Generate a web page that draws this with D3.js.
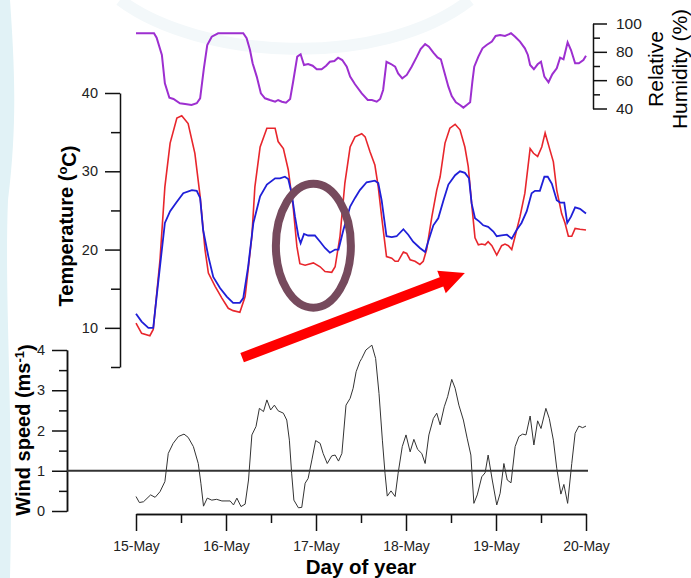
<!DOCTYPE html>
<html>
<head>
<meta charset="utf-8">
<script src="https://cdn.jsdelivr.net/npm/d3@7"></script>
<style>
  body { margin: 0; background: #fff; }
  svg { font-family: "Liberation Sans", Arial, sans-serif; display: block; }
</style>
</head>
<body>
<svg width="691" height="578"></svg>
<script>
// Hours since 15-May 00:00 and value
const dayLabels = ["15-May", "16-May", "17-May", "18-May", "19-May", "20-May"];
const dayTicks = [0, 24, 48, 72, 96, 120];
const halfDayTicks = [12, 36, 60, 84, 108];

const tempRed = [[0,10.6],[1.5,9.3],[3.7,9.0],[4.6,9.8],[6.4,18.7],[7.7,28],[9.1,33.6],[10.9,36.8],[12.2,37.1],
  [13.9,36.1],[15.7,32.3],[17.1,26.8],[18.4,20],[19.3,17],[21.1,15.3],[22.9,13.8],[24.6,12.5],[25.9,12.2],
  [27.7,12.0],[29.1,14],[30.9,21.7],[31.7,28],[33.1,33.1],[34.9,35.5],[37.1,35.5],[37.9,33.8],[39.3,32.9],
  [40.6,30.2],[41.9,25.5],[42.9,20.4],[43.7,18.2],[45.1,18.0],[47.3,18.3],[49.1,17.8],[50.4,17.2],[52.2,17.1],
  [53.1,17.8],[54.4,21.7],[55.7,28.5],[57.1,33.1],[58.4,34.4],[60.2,34.8],[61.1,34.4],[62.4,32.5],[63.7,30.8],
  [64.6,28],[65.5,24.2],[66.8,19.1],[68.2,18.9],[69.1,18.5],[69.9,18.5],[71.3,19.7],[72.2,19.5],[73.1,18.7],
  [74.4,18.5],[75.7,18.1],[76.6,18.5],[77.5,20],[78.9,24.2],[80.2,27.6],[81.1,29.3],[82.4,33.6],[83.7,35.5],
  [85.1,36.0],[86.4,35.3],[87.7,33.1],[88.6,30.6],[89.5,25.9],[90.4,21.5],[91.3,20.6],[92.2,20.7],[93.1,20.6],
  [93.9,21.0],[94.9,20.5],[96.2,19.3],[97.5,20.5],[98.4,20.7],[99.3,20.5],[100.2,20],[101.1,21.7],[102.4,24.2],
  [103.7,27.2],[105.1,32.9],[106.0,32.3],[107.1,31.9],[108.2,33.1],[109.1,34.9],[110.4,32.7],[111.3,31.2],
  [112.2,27.6],[113.5,24.6],[114.4,23.4],[115.3,21.7],[116.2,21.7],[117.1,22.7],[118.4,22.6],[120,22.5]];

const tempBlue = [[0,11.8],[1.5,10.8],[3.3,10.0],[4.6,10.0],[5.5,14],[6.9,20],[7.7,23.4],[9.1,24.9],[10.9,26.1],
  [12.6,27.2],[14.9,27.6],[16.2,27.5],[17.1,26.6],[17.9,22.5],[19.3,19.1],[20.6,16.5],[22.4,15.1],[24.2,14.0],
  [25.9,13.2],[27.7,13.2],[28.6,13.8],[29.9,17.8],[31.3,23.4],[33.1,26.8],[34.9,28.3],[37.1,29.1],[38.4,29.1],
  [39.7,29.3],[40.6,29.0],[41.5,27.2],[42.4,24.2],[43.3,21.7],[43.9,20.8],[44.8,22.0],[45.9,21.8],[47.7,21.8],
  [49.1,21.0],[50.4,20.2],[51.7,19.6],[53.1,20],[54.0,20],[55.3,22.5],[57.1,25.5],[58.4,26.6],[59.7,27.6],
  [61.5,28.6],[63.7,28.8],[64.6,28.5],[65.5,26.3],[66.8,21.7],[68.2,21.6],[69.5,21.7],[71.3,22.6],[72.6,21.9],
  [73.9,21.0],[75.7,20.2],[77.1,19.7],[77.9,21],[79.3,23.1],[80.6,24.0],[82.0,26.3],[83.3,28.3],[85.1,29.5],
  [86.4,30.0],[87.7,29.8],[88.8,29.1],[89.5,25.9],[90.4,24.0],[91.5,23.6],[92.6,23.1],[93.9,22.9],[95.3,22.3],
  [96.2,21.7],[97.5,21.8],[98.9,21.9],[100.2,21.4],[101.5,22.5],[102.8,23.4],[104.2,24.9],[105.5,27.2],
  [106.4,27.5],[107.7,27.5],[108.9,29.3],[109.8,29.3],[110.9,28.4],[112.2,26.3],[113.1,26],[114.2,26],
  [115.0,23.4],[116.0,24.2],[117.1,25.4],[118.4,25.2],[120,24.6]];

const humidity = [[0,93.1],[4.8,93.1],[5.5,90.0],[6.9,77.8],[7.7,57.8],[8.9,47.6],[10.0,46.7],[11.7,43.7],
  [13.1,43.2],[14.8,42.5],[16.2,43.7],[17.1,47.2],[18.1,68.4],[19.0,84.8],[20.2,90.7],[21.9,93.1],[28.6,93.1],
  [29.5,89.6],[30.4,81.3],[31.1,71.9],[32.2,62.5],[33.3,50.7],[34.4,47.2],[35.7,46.0],[37.1,44.8],[37.9,46.0],
  [38.9,44.8],[40.0,44.1],[41.1,46.7],[41.9,58.9],[43.0,76.6],[43.9,78.3],[44.8,70.7],[45.9,71.4],[47.1,70.2],
  [48.2,67.7],[49.5,67.7],[50.7,70.2],[51.7,73.0],[52.9,73.5],[53.9,75.9],[55.0,74.2],[56.2,69.5],[57.1,62.5],
  [58.4,57.1],[60.2,50.7],[61.8,46.0],[62.9,46.0],[64.2,44.8],[65.1,46.7],[65.9,53.1],[66.8,73.0],[68.0,71.4],
  [69.1,69.5],[69.9,64.8],[71.0,61.3],[72.2,63.7],[73.5,69.5],[74.9,76.6],[75.9,82.0],[77.1,85.5],[78.1,83.6],
  [79.3,79.4],[80.4,76.1],[81.3,74.7],[82.2,66.0],[83.3,55.4],[84.2,48.8],[85.3,44.4],[86.4,42.5],[87.3,40.6],
  [88.2,42.5],[89.1,44.4],[89.7,58.9],[90.2,69.5],[91.3,76.6],[92.4,82.5],[93.5,84.8],[94.9,87.2],[95.9,91.2],
  [97.1,91.9],[98.4,91.2],[100.0,93.1],[101.1,90.7],[102.4,87.2],[103.7,82.5],[104.5,77.8],[105.1,70.7],
  [106.1,67.7],[107.1,71.2],[108.0,73.0],[108.9,62.5],[110.0,58.5],[111.0,64.1],[112.2,68.4],[113.1,75.9],
  [114.0,74.7],[115.1,86.7],[116.0,81.3],[117.1,71.9],[118.1,71.9],[119.3,74.2],[120,77.3]];

const windSpeed = [[0,0.36],[0.9,0.21],[2.0,0.23],[3.9,0.40],[5.1,0.34],[6.4,0.48],[7.7,0.73],[8.6,1.43],
  [9.9,1.68],[11.3,1.85],[12.8,1.91],[13.9,1.83],[15.3,1.60],[16.6,1.18],[17.3,0.69],[18.0,0.12],[19.0,0.32],
  [20.2,0.27],[21.5,0.29],[22.9,0.25],[25.1,0.25],[26.0,0.15],[26.9,0.32],[28.0,0.11],[29.1,0.17],[30.0,0.77],
  [30.9,1.89],[32.0,2.10],[32.9,2.55],[34.0,2.47],[34.9,2.76],[35.9,2.51],[36.9,2.63],[37.9,2.49],[39.3,2.43],
  [40.2,2.26],[40.9,1.76],[41.5,0.94],[42.1,0.27],[43.3,0.08],[44.2,0.09],[45.1,0.69],[45.9,0.81],[46.9,1.27],
  [47.9,1.75],[49.1,1.68],[49.9,1.43],[51.0,1.18],[52.2,1.37],[53.1,1.39],[54.0,1.24],[54.9,1.43],[56.0,2.63],
  [57.1,2.80],[57.9,3.05],[58.7,3.46],[59.7,3.71],[60.2,3.79],[61.3,4.0],[62.9,4.12],[63.9,3.79],[64.8,2.92],
  [65.7,1.76],[66.4,0.94],[67.0,0.37],[68.0,0.50],[69.1,0.36],[69.9,0.94],[71.0,1.60],[72.0,1.89],[73.1,1.47],
  [74.1,1.78],[75.1,1.53],[76.2,1.43],[77.1,1.18],[78.1,1.89],[79.3,2.30],[80.2,2.43],[81.1,2.14],[82.2,2.59],
  [83.1,2.84],[84.2,3.27],[85.1,3.05],[86.1,2.63],[87.3,2.26],[88.3,1.81],[89.3,1.39],[89.7,0.77],[90.1,0.19],
  [91.0,0.40],[92.2,0.85],[93.1,0.95],[93.9,1.39],[95.0,0.77],[96.2,0.15],[97.1,0.44],[98.1,1.18],[99.0,0.77],
  [100.0,0.70],[101.1,1.60],[102.1,1.85],[103.1,1.91],[104.0,1.89],[105.1,2.36],[106.1,1.64],[107.1,2.24],
  [108.0,2.05],[109.3,2.55],[110.2,2.30],[111.3,1.76],[112.2,1.06],[113.3,0.42],[114.1,0.66],[115.1,0.19],
  [116.2,1.18],[117.1,1.93],[118.1,2.11],[119.1,2.07],[120,2.11]];

const windThreshold = 1;
// annotation anchors in data units (hours, degC)
const circleAt = [47.3, 20.5];
const arrowFrom = [28.3, 6.2], arrowTo = [87.7, 17.0];

const svg = d3.select("svg");

// faint watermark in the background
const bg = svg.append("g").attr("fill", "none");
bg.append("path").attr("d", "M0,0 L10,0 C14,60 18,120 8,200 C4,300 14,420 10,578 L0,578 Z")
  .attr("fill", "#e1f2f6").attr("stroke", "none");
bg.append("path").attr("d", "M120,0 C200,60 380,70 470,0")
  .attr("stroke", "#f3f8fa").attr("stroke-width", 12);

const x = d3.scaleLinear().domain([0, 120]).range([136, 586]);
const yT = d3.scaleLinear().domain([5, 40]).range([367, 93]);
const yW = d3.scaleLinear().domain([0, 4]).range([511, 350]);
const yH = d3.scaleLinear().domain([40, 100]).range([108.5, 23.5]);
const fmt = d3.format("d");

function styleAxis(g, size) {
  g.selectAll("path, line").attr("stroke", "#111").attr("stroke-width", 1.5);
  g.selectAll("text").attr("fill", "#222").style("font-size", size + "px")
    .style("font-family", "'Liberation Sans', Arial, sans-serif");
}

// x axis
svg.append("g").attr("transform", "translate(0,514)")
  .call(d3.axisBottom(x).tickValues(halfDayTicks).tickSize(9).tickSizeOuter(0).tickFormat(""))
  .call(g => styleAxis(g, 14));
svg.append("g").attr("transform", "translate(0,514)")
  .call(d3.axisBottom(x).tickValues(dayTicks).tickSize(17).tickSizeOuter(0).tickPadding(10)
    .tickFormat((d, i) => dayLabels[i]))
  .call(g => styleAxis(g, 14));

// temperature axis
svg.append("g").attr("transform", "translate(120,0)")
  .call(d3.axisLeft(yT).tickValues([5, 15, 25, 35]).tickSize(9).tickSizeOuter(0).tickFormat(""))
  .call(g => styleAxis(g, 14.5));
svg.append("g").attr("transform", "translate(120,0)")
  .call(d3.axisLeft(yT).tickValues([10, 20, 30, 40]).tickSize(15).tickSizeOuter(0).tickPadding(7).tickFormat(fmt))
  .call(g => g.select(".domain").remove())
  .call(g => styleAxis(g, 14.5));

// wind axis
svg.append("g").attr("transform", "translate(67,0)")
  .call(d3.axisLeft(yW).tickValues([0.5, 1.5, 2.5, 3.5]).tickSize(8).tickSizeOuter(0).tickFormat(""))
  .call(g => styleAxis(g, 14.5));
svg.append("g").attr("transform", "translate(67,0)")
  .call(d3.axisLeft(yW).tickValues([0, 1, 2, 3, 4]).tickSize(15).tickSizeOuter(0).tickPadding(7).tickFormat(fmt))
  .call(g => styleAxis(g, 14.5));

// humidity axis
svg.append("g").attr("transform", "translate(593,0)")
  .call(d3.axisRight(yH).tickValues([50, 70, 90]).tickSize(7).tickSizeOuter(0).tickFormat(""))
  .call(g => styleAxis(g, 15.5));
svg.append("g").attr("transform", "translate(593,0)")
  .call(d3.axisRight(yH).tickValues([40, 60, 80, 100]).tickSize(14).tickSizeOuter(0).tickPadding(9).tickFormat(fmt))
  .call(g => g.select(".domain").remove())
  .call(g => styleAxis(g, 15.5));

// threshold line
svg.append("line")
  .attr("x1", 67).attr("x2", x(120) + 2)
  .attr("y1", yW(windThreshold)).attr("y2", yW(windThreshold))
  .attr("stroke", "#333").attr("stroke-width", 2);

const lineT = d3.line().x(d => x(d[0])).y(d => yT(d[1]));
const lineW = d3.line().x(d => x(d[0])).y(d => yW(d[1]));
const lineH = d3.line().x(d => x(d[0])).y(d => yH(d[1]));

svg.append("path").datum(humidity).attr("d", lineH)
  .attr("fill", "none").attr("stroke", "#9d2fd0").attr("stroke-width", 2);
svg.append("path").datum(tempRed).attr("d", lineT)
  .attr("fill", "none").attr("stroke", "#e8262c").attr("stroke-width", 1.6);
svg.append("path").datum(tempBlue).attr("d", lineT)
  .attr("fill", "none").attr("stroke", "#1f1fd8").attr("stroke-width", 1.8);
svg.append("path").datum(windSpeed).attr("d", lineW)
  .attr("fill", "none").attr("stroke", "#333").attr("stroke-width", 1);

// annotations
svg.append("ellipse")
  .attr("cx", x(circleAt[0])).attr("cy", yT(circleAt[1]))
  .attr("rx", 37.5).attr("ry", 62)
  .attr("fill", "none").attr("stroke", "#764a5d").attr("stroke-width", 8);

const p0 = [x(arrowFrom[0]), yT(arrowFrom[1])], p1 = [x(arrowTo[0]), yT(arrowTo[1])];
const len = Math.hypot(p1[0] - p0[0], p1[1] - p0[1]);
const ux = (p1[0] - p0[0]) / len, uy = (p1[1] - p0[1]) / len;
const nx = -uy, ny = ux;
const headLen = 25, headW = 12, shaftW = 5;
const hb = [p1[0] - ux * headLen, p1[1] - uy * headLen];
svg.append("path")
  .attr("d", d3.line()([
    [p0[0] + nx * shaftW, p0[1] + ny * shaftW],
    [hb[0] + nx * shaftW, hb[1] + ny * shaftW],
    [hb[0] + nx * headW, hb[1] + ny * headW],
    p1,
    [hb[0] - nx * headW, hb[1] - ny * headW],
    [hb[0] - nx * shaftW, hb[1] - ny * shaftW],
    [p0[0] - nx * shaftW, p0[1] - ny * shaftW]
  ]) + "Z")
  .attr("fill", "#ff0000");

// axis titles
svg.append("text")
  .attr("transform", "translate(361,574)")
  .attr("text-anchor", "middle")
  .style("font-size", "20.5px").style("font-weight", "bold")
  .text("Day of year");

const tTitle = svg.append("text")
  .attr("transform", "translate(66,226) rotate(-90)")
  .attr("text-anchor", "middle").attr("dy", "0.35em")
  .style("font-size", "20px").style("font-weight", "bold");
tTitle.append("tspan").text("Temperature (");
tTitle.append("tspan").attr("dy", "-0.45em").style("font-size", "13px").text("o");
tTitle.append("tspan").attr("dy", "0.45em").text("C)");

const wTitle = svg.append("text")
  .attr("transform", "translate(23,430) rotate(-90)")
  .attr("text-anchor", "middle").attr("dy", "0.35em")
  .style("font-size", "20px").style("font-weight", "bold");
wTitle.append("tspan").text("Wind speed (ms");
wTitle.append("tspan").attr("dy", "-0.45em").style("font-size", "13px").text("-1");
wTitle.append("tspan").attr("dy", "0.45em").text(")");

svg.append("text")
  .attr("transform", "translate(656,69) rotate(-90)")
  .attr("text-anchor", "middle").attr("dy", "0.35em")
  .style("font-size", "21px")
  .text("Relative");
svg.append("text")
  .attr("transform", "translate(680,69) rotate(-90)")
  .attr("text-anchor", "middle").attr("dy", "0.35em")
  .style("font-size", "21px")
  .text("Humidity (%)");
</script>
</body>
</html>
